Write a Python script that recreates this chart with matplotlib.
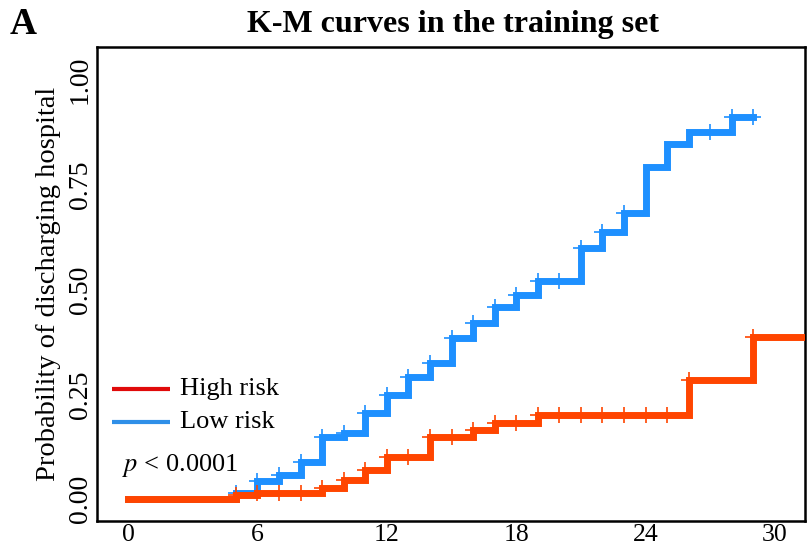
import matplotlib
matplotlib.use("Agg")
import matplotlib.pyplot as plt
import numpy as np

# ---- data ----
low_times = [0, 5, 6, 7, 8, 9, 10, 11, 12, 13, 14, 15, 16, 17, 18, 19, 21, 22, 23, 24, 25, 26, 28, 29]
low_prob = [0, 0.014, 0.042, 0.057, 0.088, 0.148, 0.157, 0.205, 0.248, 0.291, 0.325, 0.384,
            0.420, 0.458, 0.487, 0.520, 0.599, 0.637, 0.683, 0.792, 0.847, 0.876, 0.912, 0.912]
low_censor = [5, 6, 7, 8, 9, 10, 11, 12, 13, 14, 15, 16, 17, 18, 19, 20, 21, 22, 23, 27, 28, 29]

high_times = [0, 5, 6, 9, 10, 11, 12, 14, 16, 17, 19, 26, 29, 31.4]
high_prob = [0, 0.010, 0.015, 0.027, 0.045, 0.070, 0.100, 0.148, 0.165, 0.181, 0.200, 0.284, 0.387, 0.387]
high_censor = [5, 6, 7, 8, 9, 10, 11, 12, 13, 14, 15, 16, 17, 18, 19, 20, 21, 22, 23, 24, 25, 26, 29]

x_ticks = [0, 6, 12, 18, 24, 30]
y_ticks = [0.00, 0.25, 0.50, 0.75, 1.00]
y_ticklabels = ["0.00", "0.25", "0.50", "0.75", "1.00"]

title = "K-M curves in the training set"
ylabel = "Probability of discharging hospital"
legend_labels = ["High risk", "Low risk"]

# ---- style ----
plt.rcParams['font.family'] = ['Liberation Serif', 'DejaVu Serif']
plt.rcParams['mathtext.fontset'] = 'stix'
c_low = "#1E90FF"
c_high = "#FF4500"
c_leg_high = "#E00A0A"
c_leg_low = "#2F8FE8"

fig = plt.figure(figsize=(8.11, 5.52), dpi=100)
ax = fig.add_axes([0.1196, 0.0562, 0.8730, 0.8587])


def step_at(times, probs, t):
    idx = np.searchsorted(times, t, side='right') - 1
    return probs[idx]


ax.step(low_times, low_prob, where='post', color=c_low, lw=5.0, solid_joinstyle='miter', zorder=2)
ax.plot(low_censor, [step_at(low_times, low_prob, t) for t in low_censor], ls='none',
        marker='+', ms=11, mew=1.2, color=c_low, zorder=3)
ax.step(high_times, high_prob, where='post', color=c_high, lw=5.0, solid_joinstyle='miter', zorder=4)
ax.plot(high_censor, [step_at(high_times, high_prob, t) for t in high_censor], ls='none',
        marker='+', ms=11, mew=1.2, color=c_high, zorder=5)

ax.set_xlim(-1.44, 31.39)
ax.set_ylim(-0.0525, 1.079)
ax.set_xticks(x_ticks)
ax.set_xticklabels([str(v) for v in x_ticks], fontsize=18.5)
ax.set_yticks(y_ticks)
ax.set_yticklabels(y_ticklabels, fontsize=20, rotation=90, va='center')
ax.tick_params(axis='x', length=0, pad=2)
ax.tick_params(axis='y', length=0, pad=3)
for s in ax.spines.values():
    s.set_linewidth(1.8)

ax.set_ylabel(ylabel, fontsize=20.5, labelpad=5)

# legend (manual, drawn in axes coordinates)
for i, (lab, col) in enumerate(zip(legend_labels, [c_leg_high, c_leg_low])):
    yy = 0.278 - i * 0.070
    ax.plot([0.021, 0.103], [yy, yy], transform=ax.transAxes, color=col, lw=3, solid_capstyle='butt')
    ax.text(0.117, yy, lab, transform=ax.transAxes, fontsize=19, va='center', ha='left')

ax.text(0.035, 0.118, r"$\it{p}$ < 0.0001", transform=ax.transAxes, fontsize=19, va='center', ha='left')

fig.text(0.558, 0.955, title, fontsize=23, fontweight='bold', ha='center', va='center')
fig.text(0.012, 0.955, "A", fontsize=27, fontweight='bold', ha='left', va='center')

fig.savefig("out.png", dpi=100)
